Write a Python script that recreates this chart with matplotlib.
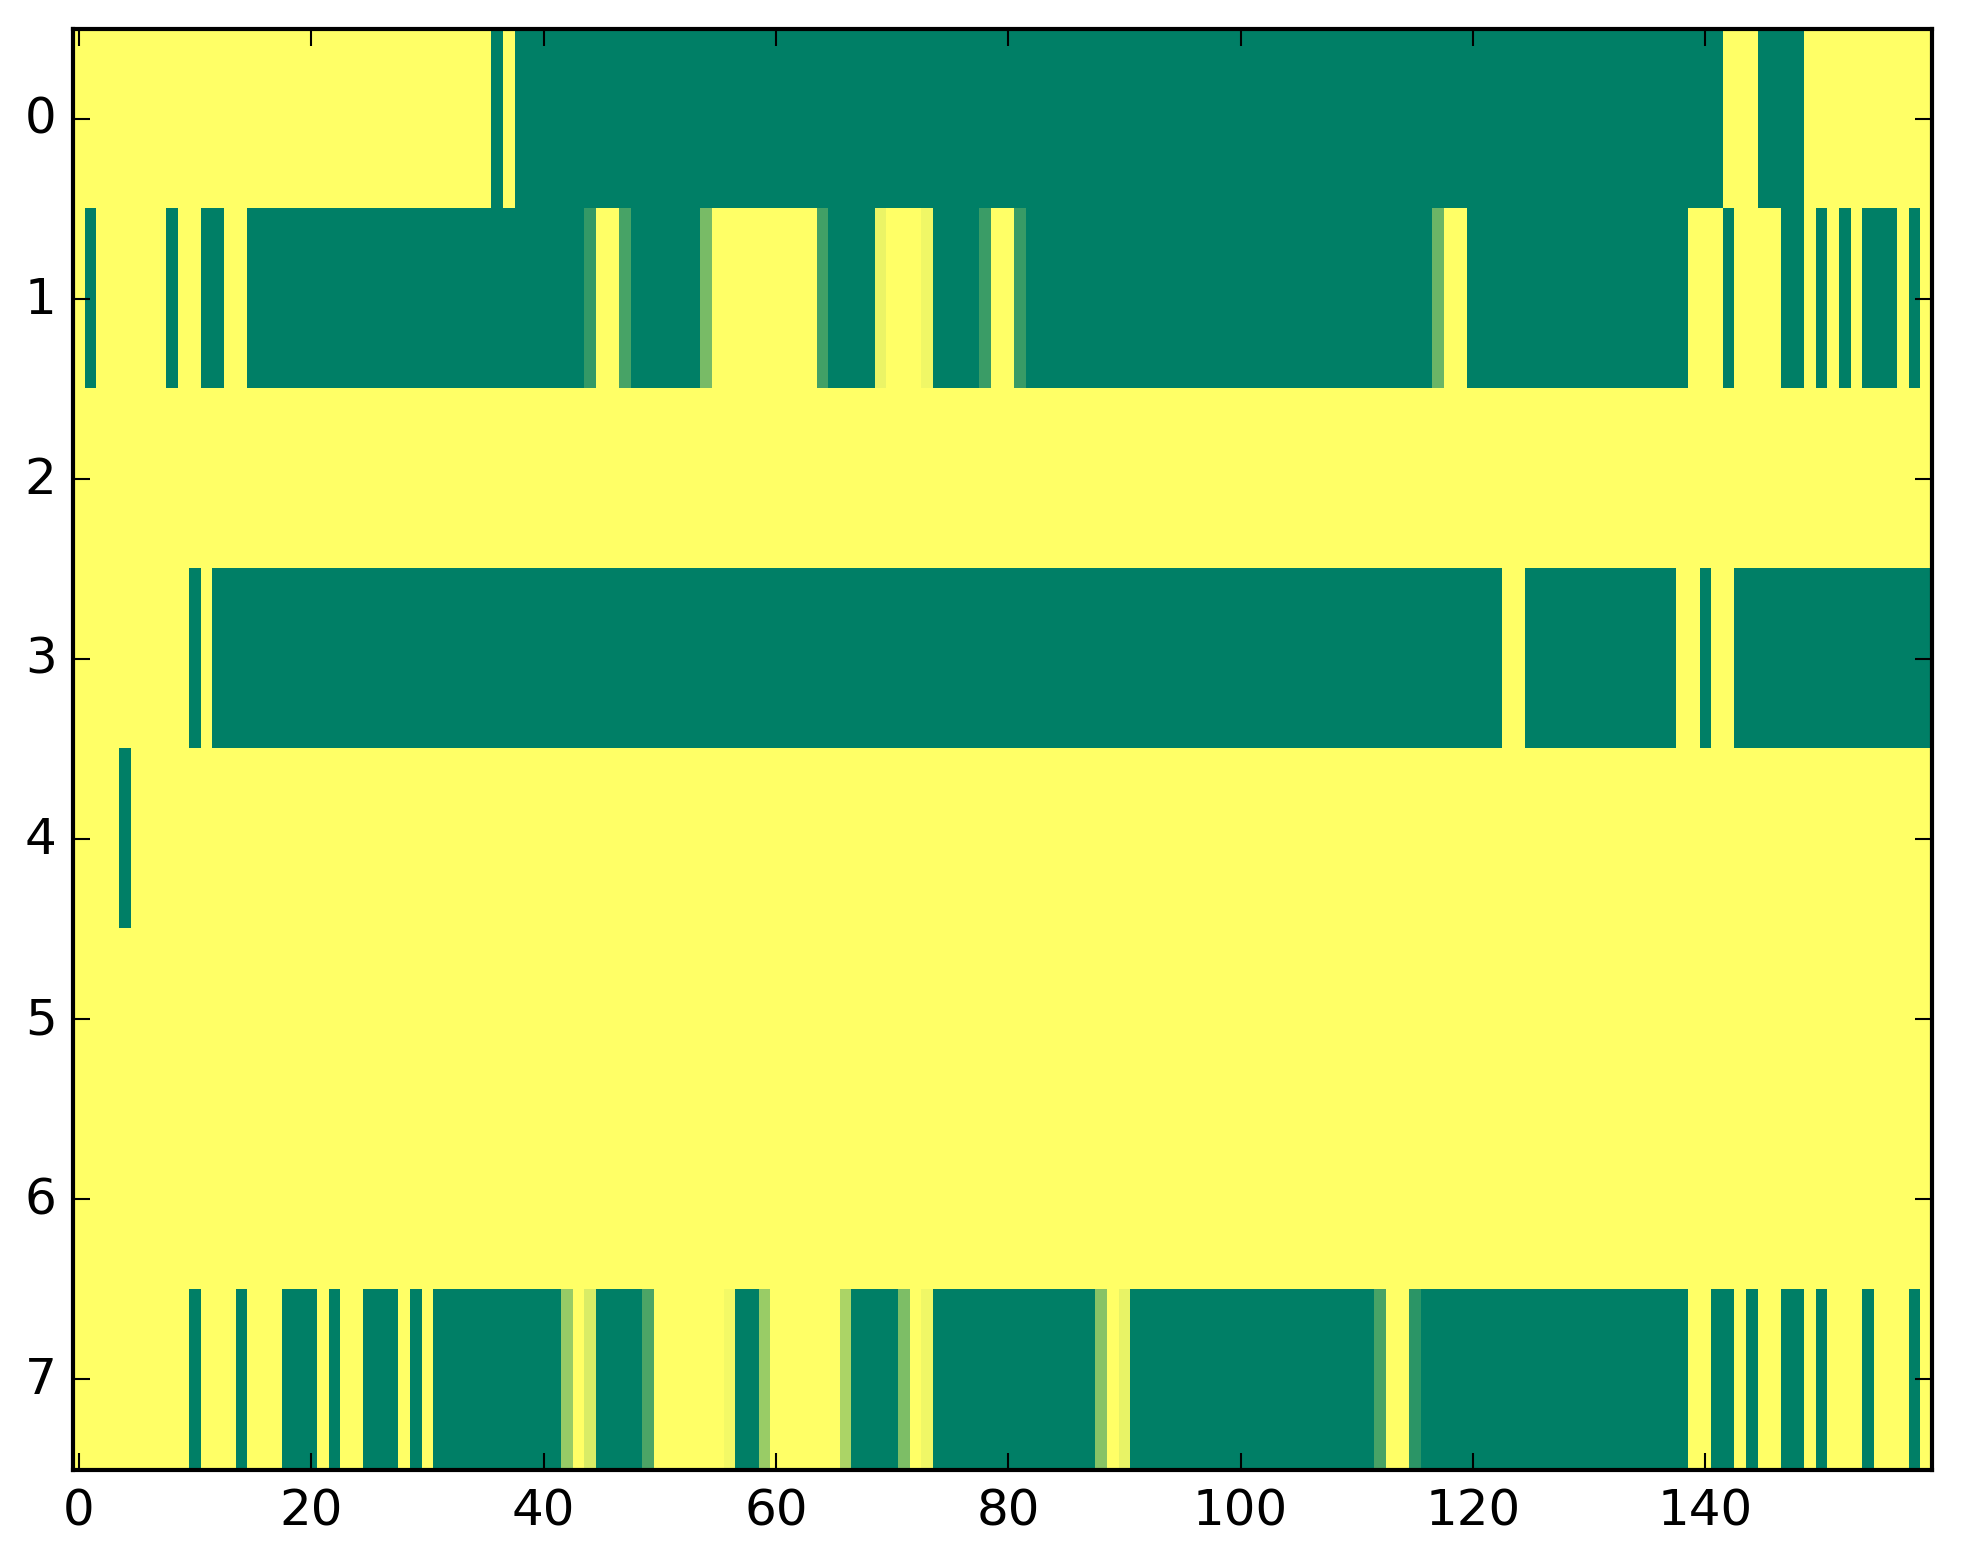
import numpy as np
import matplotlib
matplotlib.use("Agg")
import matplotlib.pyplot as plt

plt.style.use("classic")

row0 = [1, 1, 1, 1, 1, 1, 1, 1, 1, 1, 1, 1, 1, 1, 1, 1, 1, 1, 1, 1,
        1, 1, 1, 1, 1, 1, 1, 1, 1, 1, 1, 1, 1, 1, 1, 1, 0, 1, 0, 0,
        0, 0, 0, 0, 0, 0, 0, 0, 0, 0, 0, 0, 0, 0, 0, 0, 0, 0, 0, 0,
        0, 0, 0, 0, 0, 0, 0, 0, 0, 0, 0, 0, 0, 0, 0, 0, 0, 0, 0, 0,
        0, 0, 0, 0, 0, 0, 0, 0, 0, 0, 0, 0, 0, 0, 0, 0, 0, 0, 0, 0,
        0, 0, 0, 0, 0, 0, 0, 0, 0, 0, 0, 0, 0, 0, 0, 0, 0, 0, 0, 0,
        0, 0, 0, 0, 0, 0, 0, 0, 0, 0, 0, 0, 0, 0, 0, 0, 0, 0, 0, 0,
        0, 0, 1, 1, 1, 0, 0, 0, 0, 1, 1, 1, 1, 1, 1, 1, 1, 1, 1, 1]

row1 = [1, 0, 1, 1, 1, 1, 1, 1, 0, 1, 1, 0, 0, 1, 1, 0, 0, 0, 0, 0,
        0, 0, 0, 0, 0, 0, 0, 0, 0, 0, 0, 0, 0, 0, 0, 0, 0, 0, 0, 0,
        0, 0, 0, 0, 0.2, 1, 1, 0.28, 0, 0, 0, 0, 0, 0, 0.47, 1, 1, 1, 1, 1,
        1, 1, 1, 1, 0.26, 0, 0, 0, 0, 0.92, 1, 1, 1, 0.94, 0, 0, 0, 0, 0.23, 1,
        1, 0.22, 0, 0, 0, 0, 0, 0, 0, 0, 0, 0, 0, 0, 0, 0, 0, 0, 0, 0,
        0, 0, 0, 0, 0, 0, 0, 0, 0, 0, 0, 0, 0, 0, 0, 0, 0, 0.42, 1, 1,
        0, 0, 0, 0, 0, 0, 0, 0, 0, 0, 0, 0, 0, 0, 0, 0, 0, 0, 0, 1,
        1, 1, 0, 1, 1, 1, 1, 0, 0, 1, 0, 1, 0, 1, 0, 0, 0, 1, 0, 1]

row2 = [1, 1, 1, 1, 1, 1, 1, 1, 1, 1, 1, 1, 1, 1, 1, 1, 1, 1, 1, 1,
        1, 1, 1, 1, 1, 1, 1, 1, 1, 1, 1, 1, 1, 1, 1, 1, 1, 1, 1, 1,
        1, 1, 1, 1, 1, 1, 1, 1, 1, 1, 1, 1, 1, 1, 1, 1, 1, 1, 1, 1,
        1, 1, 1, 1, 1, 1, 1, 1, 1, 1, 1, 1, 1, 1, 1, 1, 1, 1, 1, 1,
        1, 1, 1, 1, 1, 1, 1, 1, 1, 1, 1, 1, 1, 1, 1, 1, 1, 1, 1, 1,
        1, 1, 1, 1, 1, 1, 1, 1, 1, 1, 1, 1, 1, 1, 1, 1, 1, 1, 1, 1,
        1, 1, 1, 1, 1, 1, 1, 1, 1, 1, 1, 1, 1, 1, 1, 1, 1, 1, 1, 1,
        1, 1, 1, 1, 1, 1, 1, 1, 1, 1, 1, 1, 1, 1, 1, 1, 1, 1, 1, 1]

row3 = [1, 1, 1, 1, 1, 1, 1, 1, 1, 1, 0, 1, 0, 0, 0, 0, 0, 0, 0, 0,
        0, 0, 0, 0, 0, 0, 0, 0, 0, 0, 0, 0, 0, 0, 0, 0, 0, 0, 0, 0,
        0, 0, 0, 0, 0, 0, 0, 0, 0, 0, 0, 0, 0, 0, 0, 0, 0, 0, 0, 0,
        0, 0, 0, 0, 0, 0, 0, 0, 0, 0, 0, 0, 0, 0, 0, 0, 0, 0, 0, 0,
        0, 0, 0, 0, 0, 0, 0, 0, 0, 0, 0, 0, 0, 0, 0, 0, 0, 0, 0, 0,
        0, 0, 0, 0, 0, 0, 0, 0, 0, 0, 0, 0, 0, 0, 0, 0, 0, 0, 0, 0,
        0, 0, 0, 1, 1, 0, 0, 0, 0, 0, 0, 0, 0, 0, 0, 0, 0, 0, 1, 1,
        0, 1, 1, 0, 0, 0, 0, 0, 0, 0, 0, 0, 0, 0, 0, 0, 0, 0, 0, 0]

row4 = [1, 1, 1, 1, 0, 1, 1, 1, 1, 1, 1, 1, 1, 1, 1, 1, 1, 1, 1, 1,
        1, 1, 1, 1, 1, 1, 1, 1, 1, 1, 1, 1, 1, 1, 1, 1, 1, 1, 1, 1,
        1, 1, 1, 1, 1, 1, 1, 1, 1, 1, 1, 1, 1, 1, 1, 1, 1, 1, 1, 1,
        1, 1, 1, 1, 1, 1, 1, 1, 1, 1, 1, 1, 1, 1, 1, 1, 1, 1, 1, 1,
        1, 1, 1, 1, 1, 1, 1, 1, 1, 1, 1, 1, 1, 1, 1, 1, 1, 1, 1, 1,
        1, 1, 1, 1, 1, 1, 1, 1, 1, 1, 1, 1, 1, 1, 1, 1, 1, 1, 1, 1,
        1, 1, 1, 1, 1, 1, 1, 1, 1, 1, 1, 1, 1, 1, 1, 1, 1, 1, 1, 1,
        1, 1, 1, 1, 1, 1, 1, 1, 1, 1, 1, 1, 1, 1, 1, 1, 1, 1, 1, 1]

row5 = [1, 1, 1, 1, 1, 1, 1, 1, 1, 1, 1, 1, 1, 1, 1, 1, 1, 1, 1, 1,
        1, 1, 1, 1, 1, 1, 1, 1, 1, 1, 1, 1, 1, 1, 1, 1, 1, 1, 1, 1,
        1, 1, 1, 1, 1, 1, 1, 1, 1, 1, 1, 1, 1, 1, 1, 1, 1, 1, 1, 1,
        1, 1, 1, 1, 1, 1, 1, 1, 1, 1, 1, 1, 1, 1, 1, 1, 1, 1, 1, 1,
        1, 1, 1, 1, 1, 1, 1, 1, 1, 1, 1, 1, 1, 1, 1, 1, 1, 1, 1, 1,
        1, 1, 1, 1, 1, 1, 1, 1, 1, 1, 1, 1, 1, 1, 1, 1, 1, 1, 1, 1,
        1, 1, 1, 1, 1, 1, 1, 1, 1, 1, 1, 1, 1, 1, 1, 1, 1, 1, 1, 1,
        1, 1, 1, 1, 1, 1, 1, 1, 1, 1, 1, 1, 1, 1, 1, 1, 1, 1, 1, 1]

row6 = [1, 1, 1, 1, 1, 1, 1, 1, 1, 1, 1, 1, 1, 1, 1, 1, 1, 1, 1, 1,
        1, 1, 1, 1, 1, 1, 1, 1, 1, 1, 1, 1, 1, 1, 1, 1, 1, 1, 1, 1,
        1, 1, 1, 1, 1, 1, 1, 1, 1, 1, 1, 1, 1, 1, 1, 1, 1, 1, 1, 1,
        1, 1, 1, 1, 1, 1, 1, 1, 1, 1, 1, 1, 1, 1, 1, 1, 1, 1, 1, 1,
        1, 1, 1, 1, 1, 1, 1, 1, 1, 1, 1, 1, 1, 1, 1, 1, 1, 1, 1, 1,
        1, 1, 1, 1, 1, 1, 1, 1, 1, 1, 1, 1, 1, 1, 1, 1, 1, 1, 1, 1,
        1, 1, 1, 1, 1, 1, 1, 1, 1, 1, 1, 1, 1, 1, 1, 1, 1, 1, 1, 1,
        1, 1, 1, 1, 1, 1, 1, 1, 1, 1, 1, 1, 1, 1, 1, 1, 1, 1, 1, 1]

row7 = [1, 1, 1, 1, 1, 1, 1, 1, 1, 1, 0, 1, 1, 1, 0, 1, 1, 1, 0, 0,
        0, 1, 0, 1, 1, 0, 0, 0, 1, 0, 1, 0, 0, 0, 0, 0, 0, 0, 0, 0,
        0, 0, 0.59, 1, 0.85, 0, 0, 0, 0, 0.30, 1, 1, 1, 1, 1, 1, 0.95, 0, 0, 0.60,
        1, 1, 1, 1, 1, 1, 0.67, 0, 0, 0, 0, 0.49, 1, 0.94, 0, 0, 0, 0, 0, 0,
        0, 0, 0, 0, 0, 0, 0, 0, 0.53, 1, 0.91, 0, 0, 0, 0, 0, 0, 0, 0, 0,
        0, 0, 0, 0, 0, 0, 0, 0, 0, 0, 0, 0, 0.28, 1, 1, 0.17, 0, 0, 0, 0,
        0, 0, 0, 0, 0, 0, 0, 0, 0, 0, 0, 0, 0, 0, 0, 0, 0, 0, 0, 1,
        1, 0, 0, 1, 0, 1, 1, 0, 0, 1, 0, 1, 1, 1, 0, 1, 1, 1, 0, 1]

rows = [row0, row1, row2, row3, row4, row5, row6, row7]
for r in rows:
    assert len(r) == 160, len(r)
data = np.array(rows, dtype=float)

x_ticks = [0, 20, 40, 60, 80, 100, 120, 140]
y_ticks = [0, 1, 2, 3, 4, 5, 6, 7]

W, H = 1963, 1564
fig = plt.figure(figsize=(W / 300, H / 300), dpi=300, facecolor="white")
ax = fig.add_axes([73.2 / W, 1 - 1470.5 / H, (1931.7 - 73.2) / W, 1441 / H])
ax.imshow(data, cmap="summer", aspect="auto", interpolation="nearest",
          vmin=0, vmax=1)
ax.set_xticks(x_ticks)
ax.set_yticks(y_ticks)
ax.set_xlim(-0.5, 159.5)
ax.set_ylim(7.5, -0.5)
ax.tick_params(labelsize=12)

fig.savefig("out.png", dpi=300, facecolor="white")
